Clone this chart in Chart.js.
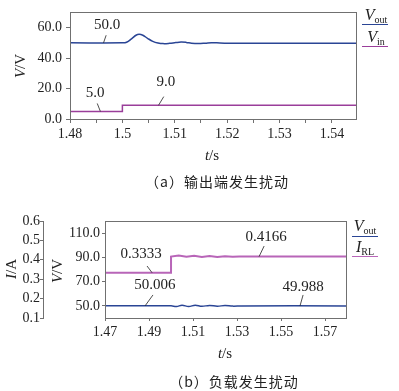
<!DOCTYPE html>
<html>
<head>
<meta charset="utf-8">
<script src="https://cdn.jsdelivr.net/npm/chart.js@4.4.1/dist/chart.umd.min.js"></script>
<style>
body{margin:0;background:#fff;width:399px;height:391px;position:relative;overflow:hidden;font-family:"Liberation Serif",serif;color:#222}
canvas{position:absolute;left:0}
.t{position:absolute;white-space:nowrap;transform:translate(-50%,-50%);font-size:15px;line-height:1}
.rot{transform:translate(-50%,-50%) rotate(-90deg)}
.cap{font-family:"Noto Sans CJK SC",sans-serif;font-size:14px;letter-spacing:1px}
.sub{font-size:10px;position:relative;top:3px}
.ln{position:absolute;height:0;width:26px}
</style>
</head>
<body>
<canvas id="ca" width="399" height="165" style="top:0"></canvas>
<canvas id="cb" width="399" height="160" style="top:200px"></canvas>

<div class="t rot" style="left:20px;top:66px"><i>V</i>/V</div>
<div class="t" style="left:212px;top:155px"><i>t</i>/s</div>
<div class="t cap" style="left:217px;top:181px">（a）输出端发生扰动</div>
<div class="t" style="left:376px;top:15px"><i style="font-size:16px">V</i><span class="sub">out</span></div>
<div class="ln" style="left:362px;top:24px;border-top:1.5px solid #2a4595"></div>
<div class="t" style="left:376px;top:37px"><i style="font-size:16px">V</i><span class="sub">in</span></div>
<div class="ln" style="left:362px;top:46px;border-top:1.5px solid #9a3e9a"></div>

<div class="t rot" style="left:11px;top:269px"><i>I</i>/A</div>
<div class="t rot" style="left:57px;top:271px"><i>V</i>/V</div>
<div class="t" style="left:225px;top:353px"><i>t</i>/s</div>
<div class="t cap" style="left:234px;top:381px">（b）负载发生扰动</div>
<div class="t" style="left:365px;top:226px"><i style="font-size:16px">V</i><span class="sub">out</span></div>
<div class="ln" style="left:352px;top:236px;border-top:1.5px solid #2a4595"></div>
<div class="t" style="left:365px;top:247px"><i style="font-size:16px">I</i><span class="sub">RL</span></div>
<div class="ln" style="left:352px;top:256px;border-top:1.5px solid #b865b8"></div>

<script>
// (a) 输出端发生扰动
const voutTa = [1.49, 1.5, 1.5008, 1.5018, 1.5026, 1.5032, 1.5039, 1.5048, 1.5058, 1.5068, 1.5078, 1.509, 1.5102, 1.5112, 1.5122, 1.5132, 1.5145, 1.5158, 1.517, 1.518, 1.5195, 1.521, 1.53, 1.5446];
const voutVa = [50.0, 50.0, 50.4, 52.8, 55.0, 55.6, 55.0, 53.0, 51.0, 49.9, 49.5, 49.7, 50.2, 50.5, 50.3, 49.8, 49.6, 49.8, 50.1, 50.0, 49.8, 49.8, 49.8, 49.8];
const vinTa = [1.49, 1.5, 1.5, 1.5446];
const vinVa = [5.0, 5.0, 9.0, 9.0];
const xTicksA = [1.49, 1.495, 1.5, 1.505, 1.51, 1.515, 1.52, 1.525, 1.53, 1.535, 1.54];
const xLabelValsA = [1.49, 1.5, 1.51, 1.52, 1.53, 1.54];
const xLabelsA = ['1.48', '1.5', '1.51', '1.52', '1.53', '1.54'];
const yTicksA = [0, 20, 40, 60];
const calloutsA = [
    {text: '50.0', x: 1.4964, y: 50, lx: 1.4969, ly: 55, tx: 1.4971, ty: 61.5},
    {text: '5.0', x: 1.4958, y: 5, lx: 1.4952, ly: 10.2, tx: 1.4948, ty: 17},
    {text: '9.0', x: 1.5069, y: 9, lx: 1.5079, ly: 14.7, tx: 1.5083, ty: 24}
];

// (b) 负载发生扰动
const voutTb = [1.47, 1.5, 1.5025, 1.505, 1.508, 1.511, 1.514, 1.5175, 1.521, 1.5245, 1.528, 1.532, 1.58];
const voutVb = [50.006, 50.006, 49.5, 50.5, 49.5, 50.5, 49.6, 50.4, 49.7, 50.3, 49.8, 49.988, 49.988];
const irlTb = [1.47, 1.5, 1.5, 1.5035, 1.507, 1.5105, 1.514, 1.5175, 1.521, 1.5245, 1.528, 1.531, 1.58];
const irlIb = [0.3333, 0.3333, 0.4166, 0.4215, 0.4155, 0.421, 0.4145, 0.419, 0.4145, 0.4185, 0.4155, 0.4166, 0.4166];
const xTicksB = [1.47, 1.49, 1.51, 1.53, 1.55, 1.57];
const vTicksB = [50, 70, 90, 110];
const iTicksB = [0.1, 0.2, 0.3, 0.4, 0.5, 0.6];
const calloutsB = [
    {text: '0.3333', axis: 'y1', x: 1.4914, y: 0.3333, lx: 1.4891, ly: 0.368, tx: 1.4864, ty: 0.428},
    {text: '50.006', axis: 'y', x: 1.4882, y: 50, lx: 1.4918, ly: 59, tx: 1.4927, ty: 67},
    {text: '0.4166', axis: 'y1', x: 1.54, y: 0.4166, lx: 1.5423, ly: 0.471, tx: 1.5432, ty: 0.515},
    {text: '49.988', axis: 'y', x: 1.5586, y: 50, lx: 1.56, ly: 59, tx: 1.56, ty: 65.5}
];

const BLUE = '#2a4595';
const MAG_A = '#9a3e9a';
const MAG_B = '#b865b8';
const GREY = '#707070';
const TXT = '#222';
const SERIF = '"Liberation Serif", "DejaVu Serif", serif';

const pts = (ts, vs) => ts.map((t, i) => ({x: t, y: vs[i]}));
const setTicks = (arr) => (s) => { s.ticks = arr.map(v => ({value: v})); };

const calloutPlugin = {
    id: 'callouts',
    afterDraw(chart, args, opts) {
        const ctx = chart.ctx;
        const a = chart.chartArea;
        ctx.save();
        ctx.strokeStyle = GREY;
        ctx.lineWidth = 1;
        ctx.strokeRect(Math.round(a.left) + 0.5, Math.round(a.top) + 0.5, Math.round(a.right - a.left), Math.round(a.bottom - a.top));
        ctx.font = '15px ' + SERIF;
        ctx.fillStyle = TXT;
        ctx.strokeStyle = TXT;
        ctx.lineWidth = 0.8;
        ctx.textAlign = 'center';
        ctx.textBaseline = 'middle';
        opts.items.forEach((c) => {
            const xs = chart.scales.x;
            const ys = chart.scales[c.axis || 'y'];
            ctx.beginPath();
            ctx.moveTo(xs.getPixelForValue(c.x), ys.getPixelForValue(c.y));
            ctx.lineTo(xs.getPixelForValue(c.lx), ys.getPixelForValue(c.ly));
            ctx.stroke();
            ctx.fillText(c.text, xs.getPixelForValue(c.tx), ys.getPixelForValue(c.ty));
        });
        ctx.restore();
    }
};

const tickFont = {family: SERIF, size: 14};

new Chart(document.getElementById('ca'), {
    type: 'line',
    data: {
        datasets: [
            {data: pts(voutTa, voutVa), borderColor: BLUE, borderWidth: 1.5, pointRadius: 0, tension: 0.4},
            {data: pts(vinTa, vinVa), borderColor: MAG_A, borderWidth: 1.5, pointRadius: 0, tension: 0}
        ]
    },
    options: {
        responsive: false,
        animation: false,
        layout: {padding: {top: 10, right: 43, left: 0, bottom: 0}},
        plugins: {legend: {display: false}, tooltip: {enabled: false}, callouts: {items: calloutsA}},
        scales: {
            x: {
                type: 'linear', min: 1.49, max: 1.5446,
                afterBuildTicks: setTicks(xTicksA),
                afterFit: (s) => { s.height = 46; },
                grid: {drawOnChartArea: false, tickLength: 4, color: GREY},
                border: {color: GREY},
                ticks: {
                    autoSkip: false, maxRotation: 0, padding: 3, color: TXT, font: tickFont,
                    callback: (v) => {
                        const i = xLabelValsA.findIndex(u => Math.abs(u - v) < 1e-6);
                        return i < 0 ? '' : xLabelsA[i];
                    }
                }
            },
            y: {
                min: 0, max: 70,
                afterBuildTicks: setTicks(yTicksA),
                afterFit: (s) => { s.width = 70; },
                grid: {drawOnChartArea: false, tickLength: 4, color: GREY},
                border: {color: GREY},
                ticks: {autoSkip: false, padding: 4, color: TXT, font: tickFont, callback: (v) => v.toFixed(1)}
            }
        }
    },
    plugins: [calloutPlugin]
});

new Chart(document.getElementById('cb'), {
    type: 'line',
    data: {
        datasets: [
            {data: pts(voutTb, voutVb), yAxisID: 'y', borderColor: BLUE, borderWidth: 1.5, pointRadius: 0, tension: 0.4},
            {data: pts(irlTb, irlIb), yAxisID: 'y1', borderColor: MAG_B, borderWidth: 2, pointRadius: 0, tension: 0}
        ]
    },
    options: {
        responsive: false,
        animation: false,
        layout: {padding: {top: 21, right: 53, left: 0, bottom: 0}},
        plugins: {legend: {display: false}, tooltip: {enabled: false}, callouts: {items: calloutsB}},
        scales: {
            x: {
                type: 'linear', min: 1.47, max: 1.5795,
                afterBuildTicks: setTicks(xTicksB),
                afterFit: (s) => { s.height = 42; },
                grid: {drawOnChartArea: false, tickLength: 3, color: GREY},
                border: {color: GREY},
                ticks: {autoSkip: false, maxRotation: 0, padding: 3, color: TXT, font: tickFont, callback: (v) => v.toFixed(2)}
            },
            y: {
                position: 'left', weight: 1,
                min: 40, max: 120,
                afterBuildTicks: setTicks(vTicksB),
                afterFit: (s) => { s.width = 62; },
                grid: {drawOnChartArea: false, tickLength: 3, color: GREY},
                border: {color: GREY},
                ticks: {autoSkip: false, padding: 2, color: TXT, font: tickFont, callback: (v) => v.toFixed(1)}
            },
            y1: {
                position: 'left', weight: 2,
                min: 0.1, max: 0.6,
                afterBuildTicks: setTicks(iTicksB),
                afterFit: (s) => { s.width = 43; },
                grid: {drawOnChartArea: false, tickLength: 3, color: GREY},
                border: {color: GREY},
                ticks: {autoSkip: false, padding: 0, color: TXT, font: tickFont, callback: (v) => v.toFixed(1)}
            }
        }
    },
    plugins: [calloutPlugin]
});
</script>
</body>
</html>
